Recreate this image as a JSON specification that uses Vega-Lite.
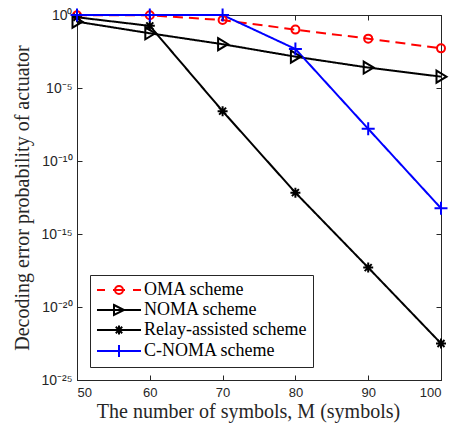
{
  "$schema": "https://vega.github.io/schema/vega-lite/v6.json",
  "autosize": {"type": "none"},
  "padding": {"left": 77, "top": 15, "right": 10, "bottom": 43},
  "width": 364,
  "height": 365,
  "background": "white",
  "config": {
    "view": {"stroke": "#262626", "strokeWidth": 1},
    "axis": {
      "grid": false,
      "domainColor": "#262626",
      "tickColor": "#262626",
      "labelColor": "#262626",
      "titleColor": "#262626",
      "labelFont": "Liberation Sans",
      "labelFontSize": 13,
      "titleFont": "Liberation Serif",
      "titleFontSize": 20,
      "titleFontWeight": "normal",
      "tickSize": -5,
      "domainWidth": 1
    }
  },
  "data": {
    "values": [
      {"M": 50, "P": 0.95, "scheme": "OMA scheme"},
      {"M": 60, "P": 0.95, "scheme": "OMA scheme"},
      {"M": 70, "P": 0.45, "scheme": "OMA scheme"},
      {"M": 80, "P": 0.1, "scheme": "OMA scheme"},
      {"M": 90, "P": 0.024, "scheme": "OMA scheme"},
      {"M": 100, "P": 0.0052, "scheme": "OMA scheme"},
      {"M": 50, "P": 0.35, "scheme": "NOMA scheme"},
      {"M": 60, "P": 0.056, "scheme": "NOMA scheme"},
      {"M": 70, "P": 0.01, "scheme": "NOMA scheme"},
      {"M": 80, "P": 0.0014, "scheme": "NOMA scheme"},
      {"M": 90, "P": 0.00025, "scheme": "NOMA scheme"},
      {"M": 100, "P": 0.00006, "scheme": "NOMA scheme"},
      {"M": 50, "P": 0.7, "scheme": "Relay-assisted scheme"},
      {"M": 60, "P": 0.18, "scheme": "Relay-assisted scheme"},
      {"M": 70, "P": 2.6e-7, "scheme": "Relay-assisted scheme"},
      {"M": 80, "P": 6.8e-13, "scheme": "Relay-assisted scheme"},
      {"M": 90, "P": 5e-18, "scheme": "Relay-assisted scheme"},
      {"M": 100, "P": 3.2e-23, "scheme": "Relay-assisted scheme"},
      {"M": 50, "P": 0.999, "scheme": "C-NOMA scheme"},
      {"M": 60, "P": 0.999, "scheme": "C-NOMA scheme"},
      {"M": 70, "P": 0.999, "scheme": "C-NOMA scheme"},
      {"M": 80, "P": 0.0047, "scheme": "C-NOMA scheme"},
      {"M": 90, "P": 1.6e-8, "scheme": "C-NOMA scheme"},
      {"M": 100, "P": 5.8e-14, "scheme": "C-NOMA scheme"}
    ]
  },
  "layer": [
    {
      "mark": {"type": "line", "strokeWidth": 2},
      "encoding": {
        "x": {
          "field": "M", "type": "quantitative",
          "scale": {"domain": [50, 100], "nice": false, "zero": false},
          "axis": {"orient": "bottom", "values": [50, 60, 70, 80, 90, 100], "format": "d", "labelPadding": 11, "title": "The number of symbols, M (symbols)", "titlePadding": 2, "titleX": 171}
        },
        "y": {
          "field": "P", "type": "quantitative",
          "scale": {"type": "log", "domain": [1e-25, 1], "nice": false},
          "axis": {
            "orient": "left",
            "values": [1e-25, 1e-20, 1e-15, 1e-10, 1e-5, 1],
            "labelExpr": "'10' + replace(replace(replace(replace(replace('' + round(log(datum.value)/LN10), '-', '⁻'), '0', '⁰'), '1', '¹'), '2', '²'), '5', '⁵')",
            "labelPadding": 10,
            "labelFontSize": 14,
            "title": "Decoding error probability of actuator",
            "titlePadding": 8
          }
        },
        "color": {
          "field": "scheme", "type": "nominal",
          "scale": {"domain": ["OMA scheme", "NOMA scheme", "Relay-assisted scheme", "C-NOMA scheme"], "range": ["#ff0000", "#000000", "#000000", "#0000ff"]},
          "legend": null
        },
        "strokeDash": {
          "field": "scheme", "type": "nominal",
          "scale": {"domain": ["OMA scheme", "NOMA scheme", "Relay-assisted scheme", "C-NOMA scheme"], "range": [[10, 6], [1, 0], [1, 0], [1, 0]]},
          "legend": null
        }
      }
    },
    {
      "mark": {"type": "point", "filled": false, "size": 100, "strokeWidth": 2, "opacity": 1},
      "encoding": {
        "x": {
          "field": "M", "type": "quantitative",
          "axis": {"orient": "top", "values": [50, 60, 70, 80, 90, 100], "labels": false, "title": null}
        },
        "y": {
          "field": "P", "type": "quantitative",
          "axis": {"orient": "right", "values": [1e-25, 1e-20, 1e-15, 1e-10, 1e-5, 1], "labels": false, "title": null}
        },
        "color": {
          "field": "scheme", "type": "nominal",
          "scale": {"domain": ["OMA scheme", "NOMA scheme", "Relay-assisted scheme", "C-NOMA scheme"], "range": ["#ff0000", "#000000", "#000000", "#0000ff"]},
          "legend": null
        },
        "shape": {
          "field": "scheme", "type": "nominal",
          "scale": {"domain": ["OMA scheme", "NOMA scheme", "Relay-assisted scheme", "C-NOMA scheme"], "range": ["M0.8,0A0.8,0.8 0 1,1 -0.8,0A0.8,0.8 0 1,1 0.8,0Z", "M-0.9,-1.2L1.1,0L-0.9,1.2Z", "M-1,0H1M0,-1V1M-0.7,-0.7L0.7,0.7M-0.7,0.7L0.7,-0.7", "M-1.3,0H1.3M0,-1.3V1.3"]},
          "legend": null
        }
      }
    },
    {
      "transform": [{"filter": "datum.M < 0"}],
      "mark": {"type": "point", "filled": false, "size": 100, "strokeWidth": 2, "opacity": 1},
      "encoding": {
        "x": {"field": "M", "type": "quantitative", "axis": null},
        "y": {"field": "P", "type": "quantitative", "axis": null},
        "color": {
          "field": "scheme", "type": "nominal",
          "scale": {"domain": ["OMA scheme", "NOMA scheme", "Relay-assisted scheme", "C-NOMA scheme"], "range": ["#ff0000", "#000000", "#000000", "#0000ff"]},
          "legend": {
            "title": null,
            "orient": "bottom-left", "offset": 13,
            "strokeColor": "#262626", "fillColor": "white", "padding": 6,
            "labelFont": "Liberation Serif", "labelFontSize": 18, "labelColor": "black", "labelLimit": 0,
            "symbolSize": 100, "symbolStrokeWidth": 2, "labelOffset": 30, "rowPadding": 2
          }
        },
        "shape": {
          "field": "scheme", "type": "nominal",
          "scale": {"domain": ["OMA scheme", "NOMA scheme", "Relay-assisted scheme", "C-NOMA scheme"], "range": ["M-1.6,0H0.0M1.6,0H4.0M5.6,0H7.2M3.6,0A0.8,0.8 0 1,1 2.0,0A0.8,0.8 0 1,1 3.6,0Z", "M-1.6,0H7.2M1.8,-1L3.8,0L1.8,1Z", "M-1.6,0H7.2M2.8,-0.9V0.9M2.16,-0.64L3.44,0.64M2.16,0.64L3.44,-0.64", "M-1.6,0H7.2M2.8,-1.2V1.2"]},
          "legend": {
            "title": null,
            "orient": "bottom-left", "offset": 13,
            "strokeColor": "#262626", "fillColor": "white", "padding": 6,
            "labelFont": "Liberation Serif", "labelFontSize": 18, "labelColor": "black", "labelLimit": 0,
            "symbolSize": 100, "symbolStrokeWidth": 2, "labelOffset": 30, "rowPadding": 2
          }
        }
      }
    }
  ],
  "resolve": {"axis": {"x": "independent", "y": "independent"}, "scale": {"color": "independent", "shape": "independent"}}
}
